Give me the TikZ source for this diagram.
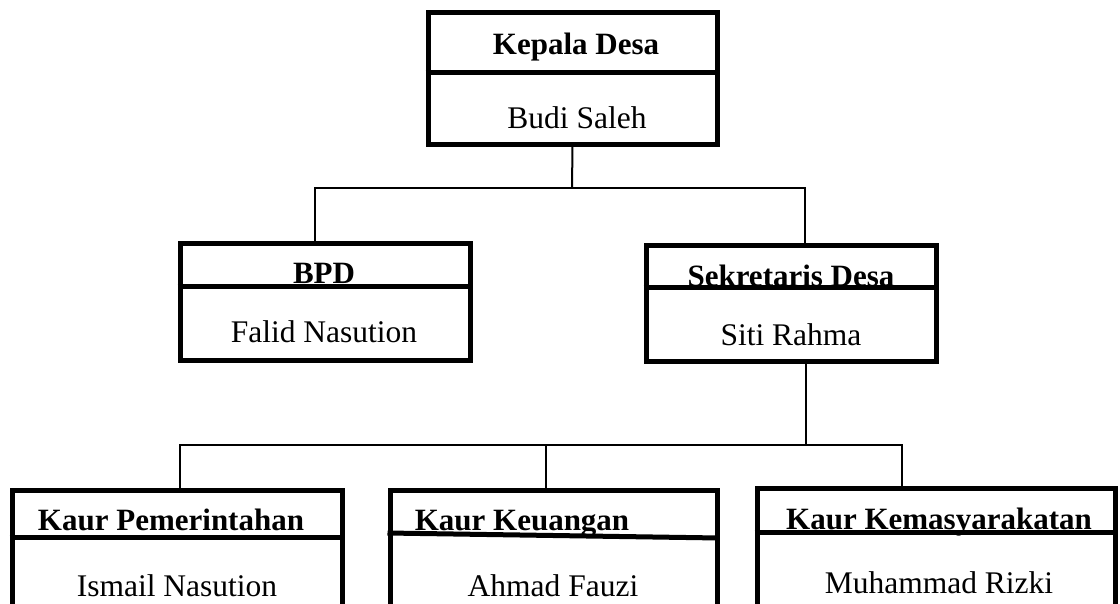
\documentclass[tikz,border=0pt]{standalone}
\usepackage{fontspec}
\setmainfont{Liberation Serif}
\begin{document}
\begin{tikzpicture}[x=1pt,y=-1pt,
  orgbox/.style 2 args={draw, rectangle, line width=5pt, minimum width=#1pt, minimum height=#2pt, inner sep=0pt},
  divline/.style={line width=5pt},
  conn/.style={line width=2pt, line join=miter},
  title/.style={anchor=base, inner sep=0pt, font=\bfseries\fontsize{31}{36}\selectfont},
  person/.style={anchor=base, inner sep=0pt, font=\fontsize{31.5}{36}\selectfont}]
\clip (0,0) rectangle (1120,603);
% boxes
\node[orgbox={289}{131.5}] (kd) at (572.5,78.25) {};
\node[orgbox={290}{117}] (bpd) at (325,301.5) {};
\node[orgbox={290}{116}] (sek) at (791,303) {};
\node[orgbox={330}{150}] (kp) at (177,565) {};
\node[orgbox={327}{150}] (kk) at (553.5,565) {};
\node[orgbox={358}{152}] (km) at (936,564) {};
% dividers
\draw[divline] ([yshift=-62.5pt]kd.north west) -- ([yshift=-62.5pt]kd.north east);
\draw[divline] ([yshift=-46pt]bpd.north west) -- ([yshift=-46pt]bpd.north east);
\draw[divline] ([yshift=-45pt]sek.north west) -- ([yshift=-45pt]sek.north east);
\draw[divline] ([yshift=-50pt]kp.north west) -- ([yshift=-50pt]kp.north east);
\draw[divline] ([yshift=-45.5pt]kk.north west) -- ([yshift=-50.5pt]kk.north east);
\draw[divline] ([yshift=-47pt]km.north west) -- ([yshift=-47pt]km.north east);
% texts
\node[title] (t1) at (576,54) {Kepala Desa};
\node[person] (p1) at (577,128) {Budi Saleh};
\node[title] (t2) at (324,283) {BPD};
\node[person] (p2) at (324,342) {Falid Nasution};
\node[title] (t3) at (791,286) {Sekretaris Desa};
\node[person] (p3) at (791,345) {Siti Rahma};
\node[title] (t4) at (171,530) {Kaur Pemerintahan};
\node[person] (p4) at (177,596) {Ismail Nasution};
\node[title] (t5) at (522,530) {Kaur Keuangan};
\node[person] (p5) at (553,596) {Ahmad Fauzi};
\node[title] (t6) at (939,529) {Kaur Kemasyarakatan};
\node[person] (p6) at (939,593) {Muhammad Rizki};
% connectors level 1
\coordinate (h1l) at (315,188);
\coordinate (h1c) at (572,188);
\coordinate (h1r) at (805,188);
\draw[conn] (kd.south) -- (h1c);
\draw[conn] (bpd.north -| h1l) -- (h1l) -- (h1r) -- (sek.north -| h1r);
% connectors level 2
\coordinate (h2l) at (180,445);
\coordinate (h2m) at (546,445);
\coordinate (h2c) at (806,445);
\coordinate (h2r) at (902,445);
\draw[conn] (sek.south -| h2c) -- (h2c);
\draw[conn] (kp.north -| h2l) -- (h2l) -- (h2r) -- (km.north -| h2r);
\draw[conn] (kk.north -| h2m) -- (h2m);
\end{tikzpicture}
\end{document}
